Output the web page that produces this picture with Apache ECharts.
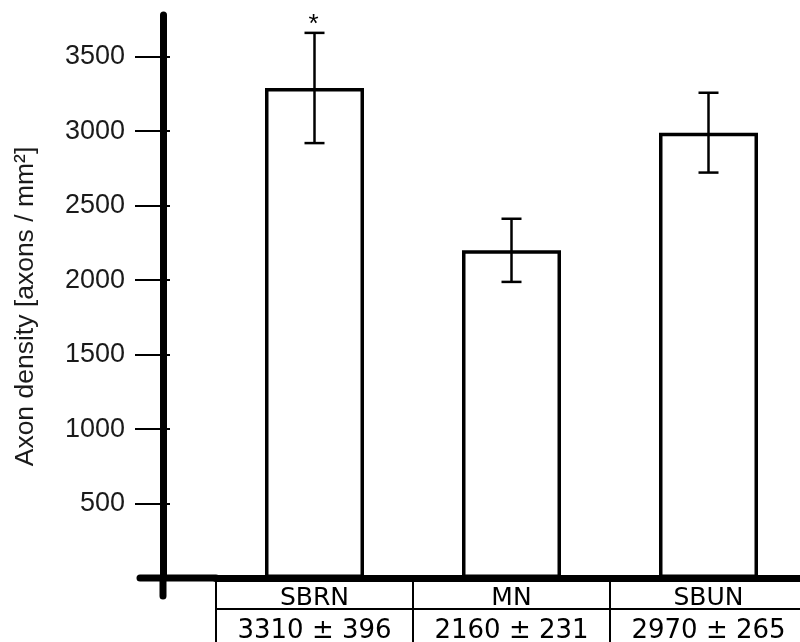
<!DOCTYPE html>
<html>
<head>
<meta charset="utf-8">
<script src="https://cdn.jsdelivr.net/npm/echarts@6/dist/echarts.min.js"></script>
<style>html,body{margin:0;padding:0;background:#fff}#c{width:800px;height:642px}</style>
</head>
<body>
<div id="c"></div>
<script>
// ---- data ----
const categories = ['SBRN', 'MN', 'SBUN'];
const means = [3290, 2200, 2990];
const errors = [370, 212, 268];
const tableValues = ['3310 \u00b1 396', '2160 \u00b1 231', '2970 \u00b1 265'];
const annotations = ['*', '', ''];
const yTickValues = [500, 1000, 1500, 2000, 2500, 3000, 3500];
const yMin = 0, yMax = 3780;

// ---- layout ----
const GRID_LEFT = 216, Y_OFFSET = 53, GRID_TOP = 15, GRID_BOTTOM = 64;
const AXIS_W = 7;

const chart = echarts.init(document.getElementById('c'), null, {renderer: 'canvas'});

const errData = means.map((m, i) => [i, m - errors[i], m + errors[i], annotations[i]]);

chart.setOption({
  animation: false,
  grid: {left: GRID_LEFT, right: -7, top: GRID_TOP, bottom: GRID_BOTTOM, containLabel: false, outerBoundsMode: 'none'},
  xAxis: [{
    type: 'category',
    data: categories,
    position: 'bottom',
    axisLine: {show: true, onZero: false, lineStyle: {color: '#000', width: AXIS_W}},
    axisTick: {show: true, length: 64, lineStyle: {color: '#000', width: 2}},
    axisLabel: {margin: 8, interval: 0, hideOverlap: false, fontFamily: 'DejaVu Sans', fontSize: 25, color: '#000', lineHeight: 25}
  }, {
    type: 'category',
    data: tableValues,
    position: 'bottom',
    offset: 31,
    axisLine: {show: true, onZero: false, lineStyle: {color: '#000', width: 2}},
    axisTick: {show: false},
    axisLabel: {margin: 9, interval: 0, hideOverlap: false, fontFamily: 'DejaVu Sans', fontSize: 26, color: '#000', lineHeight: 26}
  }],
  yAxis: [{
    type: 'value',
    min: yMin, max: yMax,
    position: 'left',
    offset: Y_OFFSET,
    splitLine: {show: false},
    axisLine: {show: true, lineStyle: {color: '#000', width: AXIS_W, cap: 'round'}},
    axisTick: {show: true, length: 28, customValues: yTickValues, lineStyle: {color: '#000', width: 2}},
    axisLabel: {margin: 38, customValues: yTickValues, formatter: function (v) { return String(v); },
      fontFamily: 'Liberation Sans', fontSize: 27, color: '#1a1a1a'},
    name: 'Axon density [axons / mm\u00b2]',
    nameLocation: 'middle',
    nameGap: 124,
    nameTextStyle: {fontFamily: 'Liberation Sans', fontSize: 26.5, color: '#1a1a1a', padding: [0, 20, 0, 0]}
  }, {
    type: 'value',
    min: yMin, max: yMax,
    position: 'left',
    offset: Y_OFFSET,
    splitLine: {show: false},
    axisLine: {show: false},
    axisTick: {show: true, inside: true, length: 7, customValues: yTickValues, lineStyle: {color: '#000', width: 2}},
    axisLabel: {show: false}
  }],
  series: [{
    type: 'bar',
    data: means,
    barWidth: 99,
    itemStyle: {color: '#fff', borderColor: '#000', borderWidth: 3.5},
    z: 2
  }, {
    type: 'custom',
    data: errData,
    z: 3,
    renderItem: function (params, api) {
      const x = api.value(0);
      const lo = api.coord([x, api.value(1)]);
      const hi = api.coord([x, api.value(2)]);
      const cap = 10;
      const style = {stroke: '#000', lineWidth: 2.5};
      const children = [
        {type: 'line', shape: {x1: hi[0], y1: hi[1], x2: lo[0], y2: lo[1]}, style: style},
        {type: 'line', shape: {x1: hi[0] - cap, y1: hi[1], x2: hi[0] + cap, y2: hi[1]}, style: style},
        {type: 'line', shape: {x1: lo[0] - cap, y1: lo[1], x2: lo[0] + cap, y2: lo[1]}, style: style}
      ];
      const note = errData[params.dataIndex][3];
      if (note) {
        children.push({type: 'text', style: {text: note, x: hi[0] - 1, y: hi[1] - 8,
          align: 'center', verticalAlign: 'middle', fontFamily: 'Liberation Sans', fontSize: 26, fill: '#000'}});
      }
      return {type: 'group', children: children};
    }
  }]
});

// axis line extensions (past the crossing point)
const zero = chart.convertToPixel({gridIndex: 0}, [0, 0]);
const axisX = GRID_LEFT - Y_OFFSET;
chart.setOption({
  graphic: [
    {type: 'line', shape: {x1: axisX, y1: zero[1], x2: axisX, y2: zero[1] + 18},
      style: {stroke: '#000', lineWidth: AXIS_W, lineCap: 'round'}, z: 10},
    {type: 'line', shape: {x1: 140, y1: zero[1], x2: GRID_LEFT, y2: zero[1]},
      style: {stroke: '#000', lineWidth: AXIS_W, lineCap: 'round'}, z: 10}
  ]
});
</script>
</body>
</html>
